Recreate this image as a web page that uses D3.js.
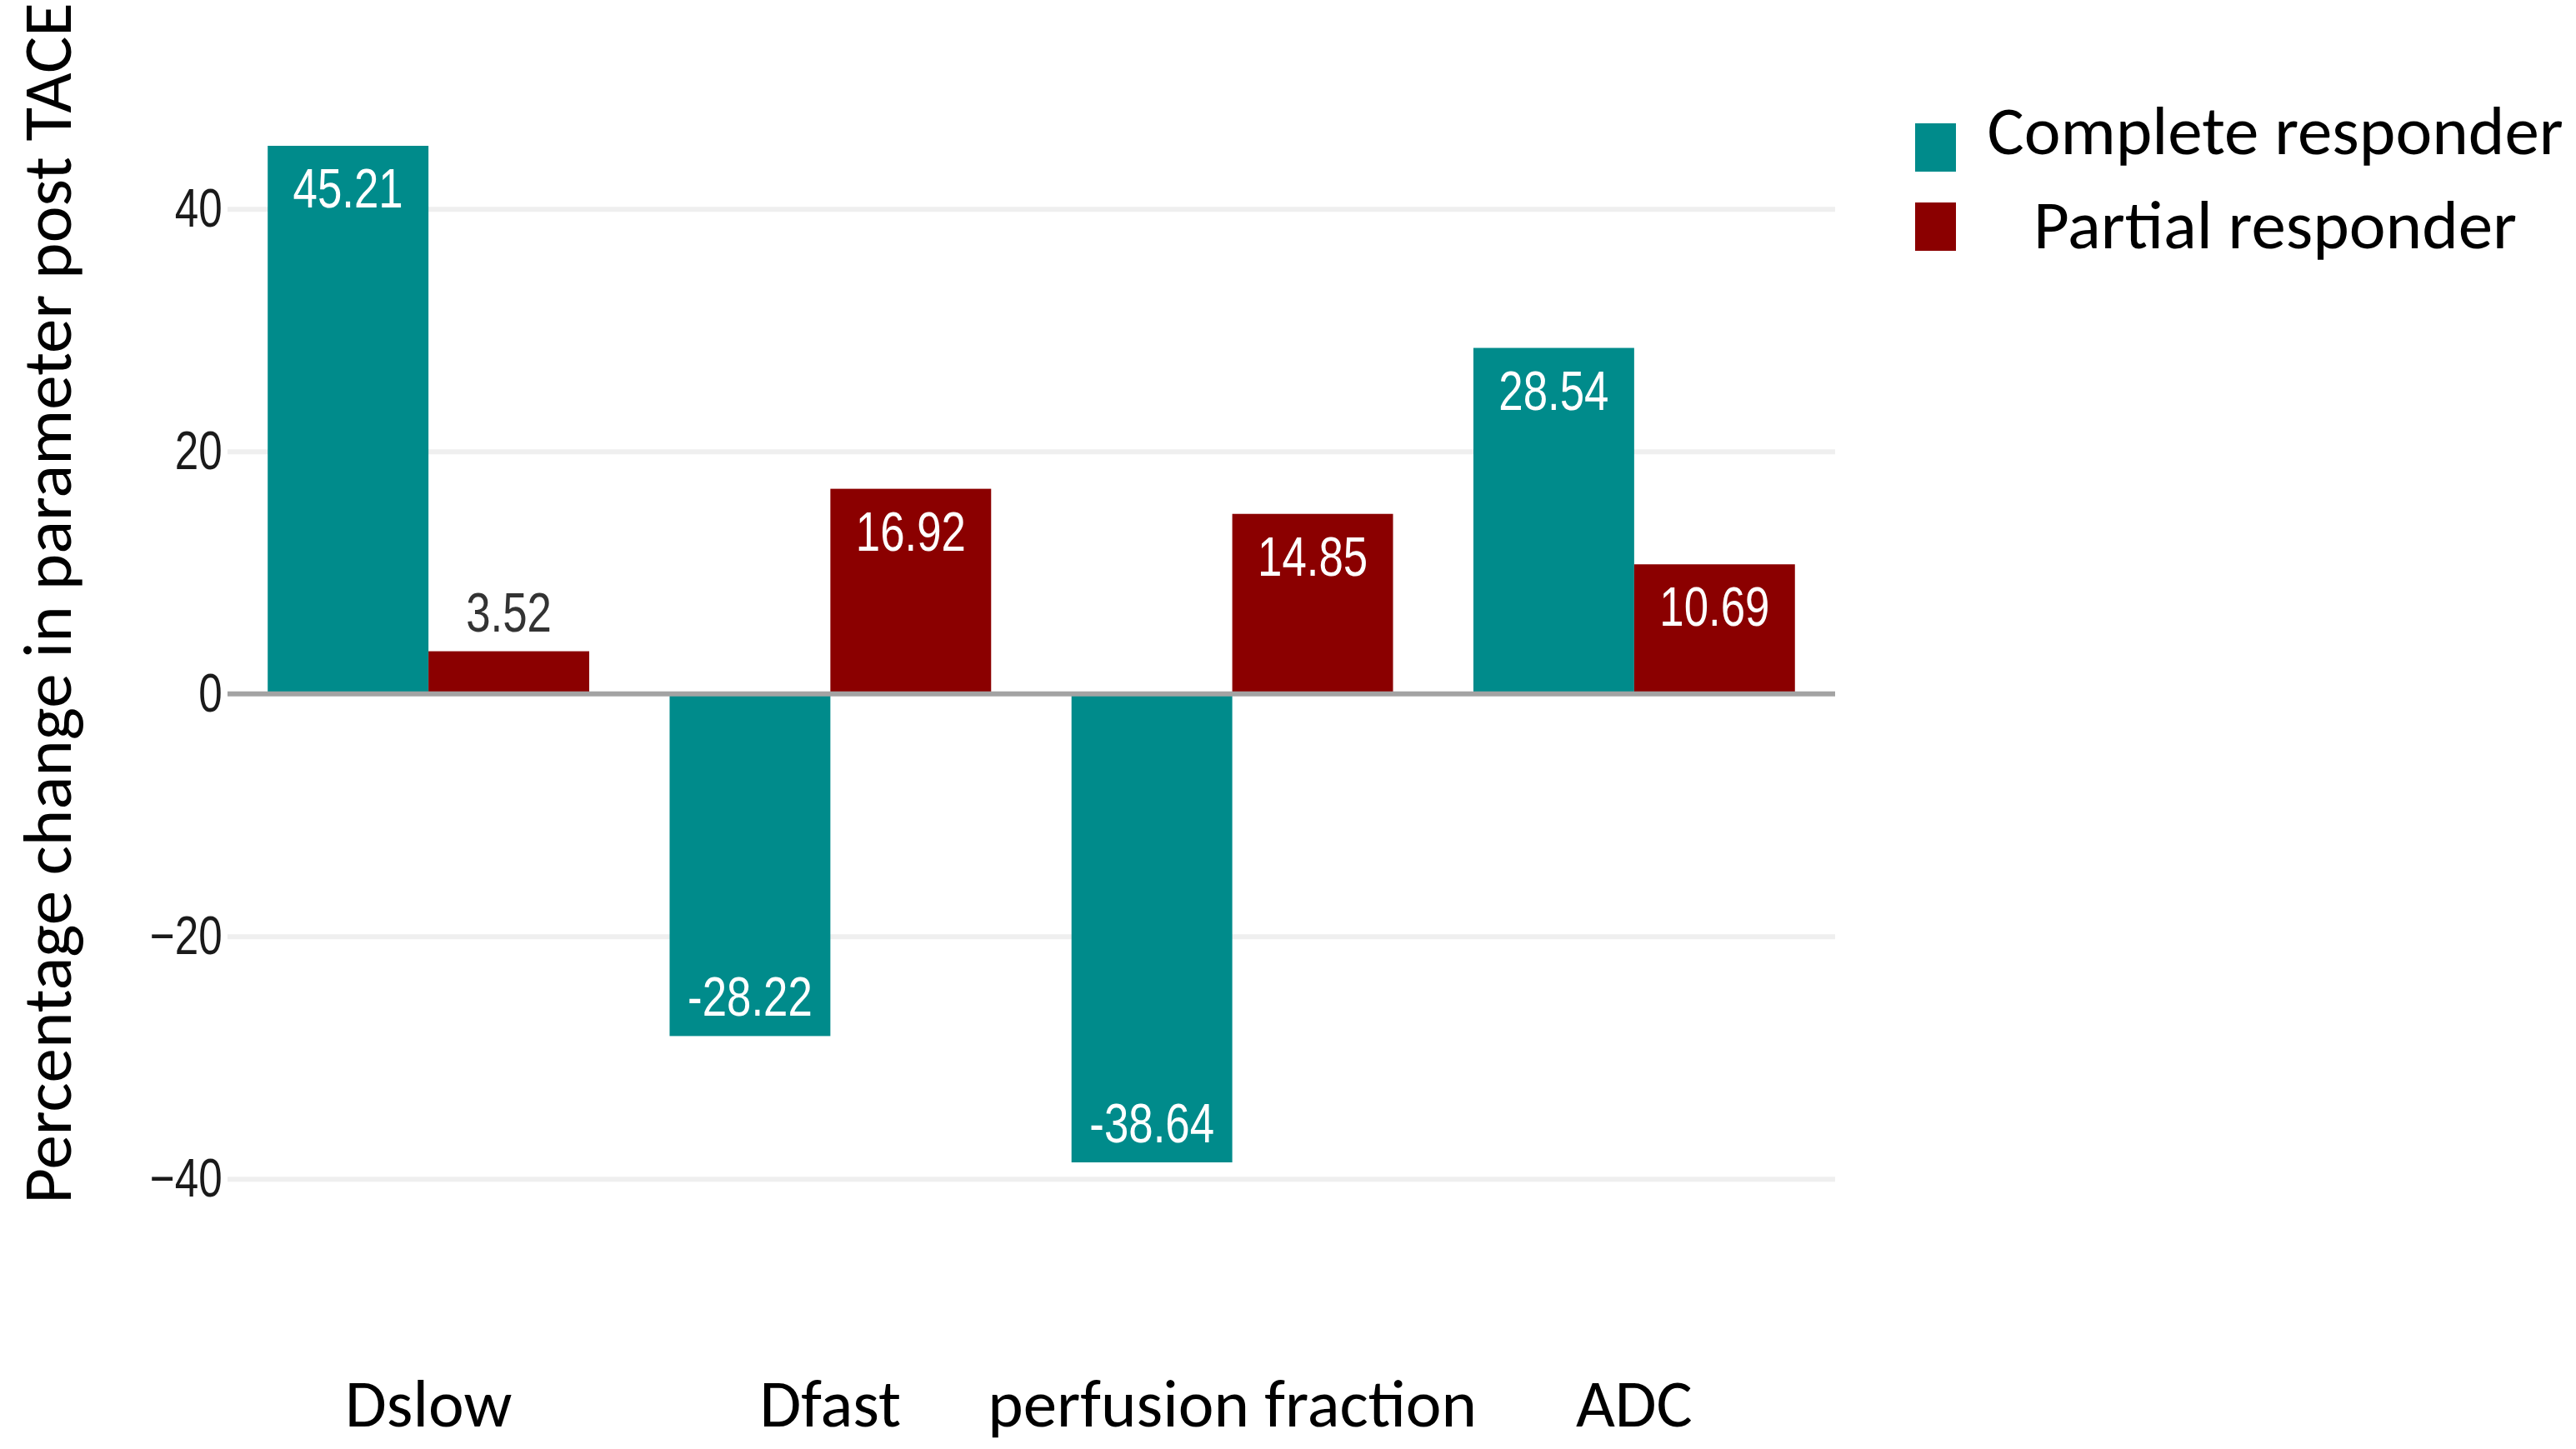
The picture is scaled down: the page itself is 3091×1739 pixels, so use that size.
<!DOCTYPE html>
<html>
<head>
<meta charset="utf-8">
<script src="https://cdn.jsdelivr.net/npm/d3@7"></script>
<style>
  html, body { margin: 0; padding: 0; background: #fff; }
  svg { display: block; }
</style>
</head>
<body>
<div id="chart"></div>
<script>
const categories = ['Dslow', 'Dfast', 'perfusion fraction', 'ADC'];
const seriesNames = ['Complete responder', 'Partial responder'];
const completeValues = [45.21, -28.22, -38.64, 28.54];
const partialValues = [3.52, 16.92, 14.85, 10.69];
const yTicks = [-40, -20, 0, 20, 40];
const colors = ['#008b8b', '#8b0000'];

const W = 3091, H = 1739;
const margin = { top: 114, right: 889, bottom: 283, left: 273 };
const width = W - margin.left - margin.right;
const height = H - margin.top - margin.bottom;

const calibriLike = 'Carlito, Lato, "Noto Sans", sans-serif';
const arialLike = '"Liberation Sans", Arial, sans-serif';
const squeeze = 0.8; // the numbers in the source are condensed

// rows: one per category, with both series
const rows = categories.map((c, i) => ({
  category: c,
  values: [completeValues[i], partialValues[i]]
}));

const svg = d3.select('#chart')
  .append('svg')
  .attr('width', W)
  .attr('height', H);

const g = svg.append('g')
  .attr('transform', `translate(${margin.left},${margin.top})`);

const x0 = d3.scaleBand()
  .domain(categories)
  .range([0, width])
  .paddingInner(0.2)
  .paddingOuter(0.1);

const x1 = d3.scaleBand()
  .domain(d3.range(seriesNames.length))
  .range([0, x0.bandwidth()]);

// ggplot style 5% expansion
const allValues = completeValues.concat(partialValues);
const lo = d3.min(allValues), hi = d3.max(allValues);
const pad = (hi - lo) * 0.05;
const y = d3.scaleLinear()
  .domain([lo - pad, hi + pad])
  .range([height, 0]);

// grid + tick labels
const yAxis = g.append('g')
  .call(d3.axisLeft(y)
    .tickValues(yTicks)
    .tickSize(-width)
    .tickPadding(8)
    .tickFormat(d3.format('d')));

yAxis.select('.domain').remove();
yAxis.selectAll('.tick line')
  .attr('stroke', '#efefef')
  .attr('stroke-width', 6)
  .attr('opacity', d => d === 0 ? 0 : 1);
yAxis.selectAll('.tick text')
  .attr('font-family', arialLike)
  .attr('font-size', 64)
  .attr('fill', '#1a1a1a')
  .attr('transform', `scale(${squeeze},1)`);

// bars
const groups = g.selectAll('.group')
  .data(rows)
  .enter()
  .append('g')
  .attr('class', 'group')
  .attr('transform', d => `translate(${x0(d.category)},0)`);

groups.selectAll('rect')
  .data(d => d.values.map((v, i) => ({ v, i })))
  .enter()
  .append('rect')
  .attr('x', d => x1(d.i))
  .attr('y', d => y(Math.max(0, d.v)))
  .attr('width', x1.bandwidth())
  .attr('height', d => Math.abs(y(d.v) - y(0)))
  .attr('fill', d => colors[d.i]);

// value labels: inside the bar, above it when the bar is too short
const barH = d => Math.abs(y(d.v) - y(0));
groups.selectAll('.val')
  .data(d => d.values.map((v, i) => ({ v, i })))
  .enter()
  .append('text')
  .attr('class', 'val')
  .attr('transform', d => {
    const cx = x1(d.i) + x1.bandwidth() / 2;
    let cy;
    if (barH(d) < 100) cy = y(Math.max(0, d.v)) - 24;
    else cy = d.v >= 0 ? y(d.v) + 74 : y(d.v) - 24;
    return `translate(${cx},${cy}) scale(${squeeze},1)`;
  })
  .attr('text-anchor', 'middle')
  .attr('font-family', arialLike)
  .attr('font-size', 66)
  .attr('fill', d => barH(d) < 100 ? '#333333' : '#ffffff')
  .text(d => d.v.toFixed(2));

// zero line
g.append('line')
  .attr('x1', 0)
  .attr('x2', width)
  .attr('y1', y(0))
  .attr('y2', y(0))
  .attr('stroke', '#a3a3a3')
  .attr('stroke-width', 6);

// category labels
g.selectAll('.cat')
  .data(categories)
  .enter()
  .append('text')
  .attr('class', 'cat')
  .attr('x', d => x0(d) + x0.bandwidth() / 2)
  .attr('y', 1712 - margin.top)
  .attr('text-anchor', 'middle')
  .attr('font-family', calibriLike)
  .attr('font-size', 81)
  .attr('fill', '#000')
  .text(d => d);

// y title
svg.append('text')
  .attr('transform', 'translate(85,724) rotate(-90)')
  .attr('text-anchor', 'middle')
  .attr('font-family', calibriLike)
  .attr('font-size', 83)
  .attr('fill', '#000')
  .text('Percentage change in parameter post TACE');

// legend
const legend = svg.append('g')
  .attr('transform', 'translate(2298,148)');

const items = legend.selectAll('.item')
  .data(seriesNames)
  .enter()
  .append('g')
  .attr('class', 'item');

items.append('rect')
  .attr('y', (d, i) => i * 95)
  .attr('width', 49)
  .attr('height', 58)
  .attr('fill', (d, i) => colors[i]);

items.append('text')
  .attr('x', 432)
  .attr('y', (d, i) => 37 + i * 113)
  .attr('text-anchor', 'middle')
  .attr('font-family', calibriLike)
  .attr('font-size', 83)
  .attr('fill', '#000')
  .text(d => d);
</script>
</body>
</html>
